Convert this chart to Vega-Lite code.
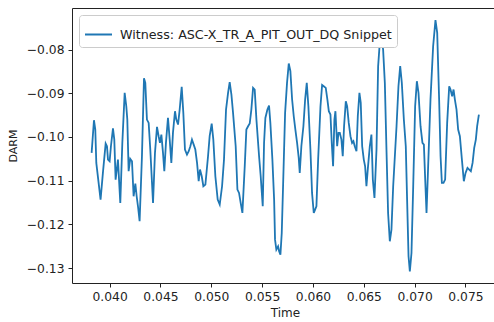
{
  "$schema": "https://vega.github.io/schema/vega-lite/v6.json",
  "width": 426,
  "height": 275,
  "autosize": {"type": "none"},
  "padding": {"left": 72, "top": 8, "right": 0, "bottom": 39},
  "background": "white",
  "config": {
    "view": {"stroke": "#222222", "strokeWidth": 1},
    "font": "DejaVu Sans",
    "axis": {
      "grid": false,
      "domain": false,
      "tickColor": "#222222",
      "tickSize": 4,
      "labelColor": "#222222",
      "titleColor": "#222222",
      "labelFontSize": 12.3,
      "titleFontSize": 12,
      "titleFontWeight": "normal",
      "labelFont": "DejaVu Sans",
      "titleFont": "DejaVu Sans"
    }
  },
  "data": {
    "values": [
      {"t": 0.03823, "v": -0.10365}, {"t": 0.03846, "v": -0.09617}, {"t": 0.03859, "v": -0.09831}, {"t": 0.03869, "v": -0.10594},
      {"t": 0.03911, "v": -0.11433}, {"t": 0.03934, "v": -0.10822}, {"t": 0.03961, "v": -0.10151}, {"t": 0.03974, "v": -0.10212},
      {"t": 0.03984, "v": -0.10517}, {"t": 0.04000, "v": -0.10555}, {"t": 0.04013, "v": -0.10212}, {"t": 0.04033, "v": -0.09800},
      {"t": 0.04046, "v": -0.10060}, {"t": 0.04059, "v": -0.10975}, {"t": 0.04082, "v": -0.10517}, {"t": 0.04105, "v": -0.11509},
      {"t": 0.04125, "v": -0.10136}, {"t": 0.04148, "v": -0.08992}, {"t": 0.04164, "v": -0.09297}, {"t": 0.04174, "v": -0.09602},
      {"t": 0.04187, "v": -0.10784}, {"t": 0.04203, "v": -0.10502}, {"t": 0.04220, "v": -0.10555}, {"t": 0.04236, "v": -0.11356},
      {"t": 0.04253, "v": -0.11066}, {"t": 0.04266, "v": -0.11356}, {"t": 0.04279, "v": -0.11585}, {"t": 0.04295, "v": -0.11928},
      {"t": 0.04318, "v": -0.10441}, {"t": 0.04338, "v": -0.08656}, {"t": 0.04351, "v": -0.08763}, {"t": 0.04367, "v": -0.09602},
      {"t": 0.04384, "v": -0.09678}, {"t": 0.04400, "v": -0.10288}, {"t": 0.04427, "v": -0.11509}, {"t": 0.04446, "v": -0.10365},
      {"t": 0.04466, "v": -0.09770}, {"t": 0.04482, "v": -0.09983}, {"t": 0.04495, "v": -0.10136}, {"t": 0.04509, "v": -0.09945},
      {"t": 0.04525, "v": -0.10365}, {"t": 0.04538, "v": -0.10784}, {"t": 0.04554, "v": -0.10136}, {"t": 0.04574, "v": -0.09564},
      {"t": 0.04591, "v": -0.10060}, {"t": 0.04607, "v": -0.10594}, {"t": 0.04623, "v": -0.09907}, {"t": 0.04643, "v": -0.09411},
      {"t": 0.04656, "v": -0.09602}, {"t": 0.04673, "v": -0.09716}, {"t": 0.04689, "v": -0.09373}, {"t": 0.04709, "v": -0.08854},
      {"t": 0.04725, "v": -0.09449}, {"t": 0.04741, "v": -0.10288}, {"t": 0.04761, "v": -0.10403}, {"t": 0.04778, "v": -0.10327},
      {"t": 0.04794, "v": -0.10212}, {"t": 0.04810, "v": -0.10060}, {"t": 0.04827, "v": -0.10174}, {"t": 0.04843, "v": -0.10288},
      {"t": 0.04860, "v": -0.10594}, {"t": 0.04876, "v": -0.11013}, {"t": 0.04889, "v": -0.10746}, {"t": 0.04906, "v": -0.10899},
      {"t": 0.04922, "v": -0.11127}, {"t": 0.04942, "v": -0.11089}, {"t": 0.04968, "v": -0.10441}, {"t": 0.04984, "v": -0.09983},
      {"t": 0.05004, "v": -0.09693}, {"t": 0.05020, "v": -0.10060}, {"t": 0.05040, "v": -0.10899}, {"t": 0.05063, "v": -0.11433},
      {"t": 0.05083, "v": -0.11547}, {"t": 0.05106, "v": -0.11127}, {"t": 0.05125, "v": -0.10517}, {"t": 0.05145, "v": -0.09373},
      {"t": 0.05165, "v": -0.08992}, {"t": 0.05181, "v": -0.08748}, {"t": 0.05198, "v": -0.09030}, {"t": 0.05214, "v": -0.09449},
      {"t": 0.05240, "v": -0.10212}, {"t": 0.05257, "v": -0.11204}, {"t": 0.05273, "v": -0.11280}, {"t": 0.05289, "v": -0.11509},
      {"t": 0.05306, "v": -0.11738}, {"t": 0.05329, "v": -0.10670}, {"t": 0.05345, "v": -0.09831}, {"t": 0.05362, "v": -0.09754},
      {"t": 0.05378, "v": -0.09693}, {"t": 0.05394, "v": -0.09373}, {"t": 0.05411, "v": -0.08877}, {"t": 0.05427, "v": -0.08915},
      {"t": 0.05444, "v": -0.09602}, {"t": 0.05470, "v": -0.10441}, {"t": 0.05486, "v": -0.10899}, {"t": 0.05506, "v": -0.11585},
      {"t": 0.05519, "v": -0.10136}, {"t": 0.05532, "v": -0.09564}, {"t": 0.05552, "v": -0.09373}, {"t": 0.05568, "v": -0.09282},
      {"t": 0.05581, "v": -0.09678}, {"t": 0.05601, "v": -0.10517}, {"t": 0.05618, "v": -0.11433}, {"t": 0.05627, "v": -0.12348},
      {"t": 0.05640, "v": -0.12577}, {"t": 0.05657, "v": -0.12501}, {"t": 0.05667, "v": -0.12615}, {"t": 0.05680, "v": -0.12691},
      {"t": 0.05693, "v": -0.12195}, {"t": 0.05706, "v": -0.11127}, {"t": 0.05726, "v": -0.09449}, {"t": 0.05745, "v": -0.08763},
      {"t": 0.05762, "v": -0.08320}, {"t": 0.05778, "v": -0.08496}, {"t": 0.05795, "v": -0.09144}, {"t": 0.05811, "v": -0.09526},
      {"t": 0.05827, "v": -0.09831}, {"t": 0.05844, "v": -0.10136}, {"t": 0.05860, "v": -0.10479}, {"t": 0.05870, "v": -0.10822},
      {"t": 0.05886, "v": -0.10212}, {"t": 0.05906, "v": -0.09754}, {"t": 0.05923, "v": -0.09144}, {"t": 0.05939, "v": -0.08763},
      {"t": 0.05955, "v": -0.09297}, {"t": 0.05975, "v": -0.10288}, {"t": 0.05991, "v": -0.11280}, {"t": 0.06008, "v": -0.11738},
      {"t": 0.06021, "v": -0.11661}, {"t": 0.06034, "v": -0.11585}, {"t": 0.06051, "v": -0.10517}, {"t": 0.06074, "v": -0.09297},
      {"t": 0.06090, "v": -0.08809}, {"t": 0.06106, "v": -0.08839}, {"t": 0.06126, "v": -0.08877}, {"t": 0.06142, "v": -0.09144},
      {"t": 0.06156, "v": -0.09411}, {"t": 0.06172, "v": -0.09487}, {"t": 0.06185, "v": -0.10136}, {"t": 0.06198, "v": -0.10670},
      {"t": 0.06211, "v": -0.09602}, {"t": 0.06221, "v": -0.09411}, {"t": 0.06238, "v": -0.10212}, {"t": 0.06251, "v": -0.09907},
      {"t": 0.06264, "v": -0.09907}, {"t": 0.06280, "v": -0.10060}, {"t": 0.06293, "v": -0.10441}, {"t": 0.06306, "v": -0.09754},
      {"t": 0.06323, "v": -0.09182}, {"t": 0.06336, "v": -0.09297}, {"t": 0.06352, "v": -0.09678}, {"t": 0.06369, "v": -0.09983},
      {"t": 0.06385, "v": -0.10136}, {"t": 0.06398, "v": -0.10098}, {"t": 0.06411, "v": -0.10212}, {"t": 0.06428, "v": -0.10327},
      {"t": 0.06441, "v": -0.09526}, {"t": 0.06457, "v": -0.08992}, {"t": 0.06470, "v": -0.09220}, {"t": 0.06484, "v": -0.10212},
      {"t": 0.06500, "v": -0.10517}, {"t": 0.06513, "v": -0.10670}, {"t": 0.06526, "v": -0.11127}, {"t": 0.06539, "v": -0.10746},
      {"t": 0.06559, "v": -0.10212}, {"t": 0.06575, "v": -0.09945}, {"t": 0.06589, "v": -0.10975}, {"t": 0.06605, "v": -0.11395},
      {"t": 0.06625, "v": -0.10288}, {"t": 0.06641, "v": -0.08381}, {"t": 0.06657, "v": -0.07847}, {"t": 0.06674, "v": -0.07695},
      {"t": 0.06690, "v": -0.08000}, {"t": 0.06707, "v": -0.08763}, {"t": 0.06723, "v": -0.10288}, {"t": 0.06739, "v": -0.11738},
      {"t": 0.06756, "v": -0.12386}, {"t": 0.06772, "v": -0.12119}, {"t": 0.06789, "v": -0.11127}, {"t": 0.06822, "v": -0.09754},
      {"t": 0.06841, "v": -0.08839}, {"t": 0.06858, "v": -0.08381}, {"t": 0.06874, "v": -0.08763}, {"t": 0.06894, "v": -0.09602},
      {"t": 0.06913, "v": -0.10212}, {"t": 0.06926, "v": -0.11433}, {"t": 0.06940, "v": -0.12729}, {"t": 0.06953, "v": -0.13073},
      {"t": 0.06969, "v": -0.12653}, {"t": 0.06986, "v": -0.11127}, {"t": 0.07005, "v": -0.09297}, {"t": 0.07022, "v": -0.08725},
      {"t": 0.07038, "v": -0.08992}, {"t": 0.07058, "v": -0.09754}, {"t": 0.07077, "v": -0.10136}, {"t": 0.07091, "v": -0.10174},
      {"t": 0.07104, "v": -0.10975}, {"t": 0.07117, "v": -0.11738}, {"t": 0.07133, "v": -0.10670}, {"t": 0.07156, "v": -0.09144},
      {"t": 0.07182, "v": -0.07924}, {"t": 0.07205, "v": -0.07329}, {"t": 0.07222, "v": -0.07619}, {"t": 0.07241, "v": -0.09144},
      {"t": 0.07255, "v": -0.10441}, {"t": 0.07268, "v": -0.11051}, {"t": 0.07284, "v": -0.11051}, {"t": 0.07300, "v": -0.10975},
      {"t": 0.07320, "v": -0.09678}, {"t": 0.07340, "v": -0.08839}, {"t": 0.07353, "v": -0.08915}, {"t": 0.07369, "v": -0.09068},
      {"t": 0.07383, "v": -0.08915}, {"t": 0.07396, "v": -0.09144}, {"t": 0.07412, "v": -0.09373}, {"t": 0.07428, "v": -0.09831},
      {"t": 0.07445, "v": -0.09983}, {"t": 0.07465, "v": -0.10517}, {"t": 0.07484, "v": -0.11013}, {"t": 0.07501, "v": -0.10822},
      {"t": 0.07520, "v": -0.10708}, {"t": 0.07537, "v": -0.10746}, {"t": 0.07553, "v": -0.10784}, {"t": 0.07570, "v": -0.10594},
      {"t": 0.07586, "v": -0.10250}, {"t": 0.07602, "v": -0.10060}, {"t": 0.07615, "v": -0.09754}, {"t": 0.07632, "v": -0.09487}
    ]
  },
  "mark": {"type": "line", "strokeWidth": 1.8, "interpolate": "linear"},
  "encoding": {
    "x": {
      "field": "t", "type": "quantitative", "title": "Time",
      "scale": {"domain": [0.0363, 0.0782], "nice": false, "zero": false},
      "axis": {"values": [0.040, 0.045, 0.050, 0.055, 0.060, 0.065, 0.070, 0.075], "format": ".3f", "labelPadding": 3, "titlePadding": 5}
    },
    "y": {
      "field": "v", "type": "quantitative", "title": "DARM",
      "scale": {"domain": [-0.1334, -0.0705], "nice": false, "zero": false},
      "axis": {"values": [-0.13, -0.12, -0.11, -0.10, -0.09, -0.08], "format": ".2f", "labelPadding": 4, "titlePadding": 8, "titleFontSize": 11}
    },
    "color": {
      "datum": "Witness: ASC-X_TR_A_PIT_OUT_DQ Snippet", "type": "nominal",
      "scale": {"range": ["#1f77b4"]},
      "legend": {
        "title": null,
        "orient": "none",
        "legendX": 7,
        "legendY": 7,
        "symbolType": "stroke",
        "symbolSize": 729,
        "symbolStrokeWidth": 2,
        "labelFontSize": 12.7,
        "labelFont": "DejaVu Sans",
        "labelColor": "#222222",
        "labelOffset": 7,
        "labelLimit": 400,
        "padding": 5,
        "strokeColor": "#cccccc",
        "fillColor": "white",
        "cornerRadius": 3
      }
    }
  }
}
